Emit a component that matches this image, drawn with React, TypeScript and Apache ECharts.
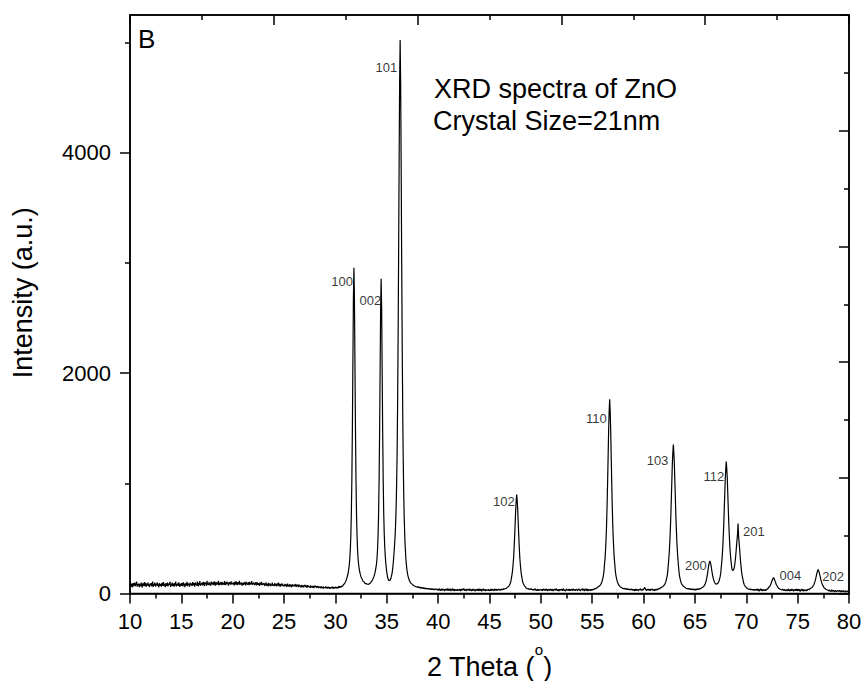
import React, { useEffect, useRef } from "react";
import * as echarts from "echarts";

// ---- measurement grid (2θ in degrees) ----
const START_ANGLE = 10;
const STEP = 0.05;

// Intensity (a.u.), one row per degree: row r holds 2θ = 10+r .. 10+r+0.95 in 0.05° steps
const intensityRows: number[][] = [
  [74, 102, 60, 88, 78, 56, 94, 70, 84, 98, 66, 80, 76, 106, 62, 86, 72, 90, 58, 82], // 10
  [88, 64, 98, 76, 54, 92, 80, 70, 104, 66, 78, 96, 62, 86, 74, 100, 68, 84, 58, 90], // 11
  [76, 94, 66, 82, 108, 60, 86, 72, 98, 78, 64, 90, 74, 102, 68, 84, 56, 94, 80, 70], // 12
  [86, 62, 96, 78, 72, 104, 66, 88, 76, 58, 92, 82, 70, 100, 64, 90, 78, 74, 106, 60], // 13
  [84, 72, 98, 66, 90, 80, 62, 94, 76, 108, 64, 86, 74, 92, 68, 102, 78, 60, 88, 82], // 14
  [70, 96, 80, 64, 102, 74, 88, 58, 92, 82, 72, 106, 66, 94, 78, 84, 62, 98, 76, 90], // 15
  [80, 68, 104, 86, 74, 94, 62, 100, 78, 90, 72, 108, 84, 66, 96, 76, 112, 70, 88, 82], // 16
  [98, 74, 90, 106, 78, 68, 102, 86, 94, 72, 116, 82, 90, 76, 104, 80, 92, 70, 108, 84], // 17
  [88, 100, 76, 94, 110, 82, 72, 104, 90, 78, 98, 86, 114, 74, 96, 88, 80, 106, 92, 76], // 18
  [102, 84, 94, 78, 112, 90, 76, 100, 86, 108, 82, 94, 72, 104, 88, 98, 80, 110, 86, 92], // 19
  [84, 100, 90, 74, 106, 94, 80, 110, 88, 76, 102, 92, 84, 116, 78, 96, 86, 100, 72, 94], // 20
  [90, 78, 104, 86, 98, 74, 108, 84, 92, 80, 102, 88, 76, 106, 82, 94, 86, 112, 78, 90], // 21
  [86, 98, 76, 92, 82, 104, 74, 88, 100, 78, 94, 84, 70, 98, 88, 80, 106, 76, 90, 82], // 22
  [78, 94, 68, 86, 76, 100, 72, 88, 82, 64, 96, 80, 74, 90, 66, 84, 78, 98, 70, 82], // 23
  [80, 68, 94, 76, 86, 64, 90, 74, 82, 98, 66, 80, 88, 62, 84, 72, 92, 70, 78, 66], // 24
  [79, 65, 87, 71, 83, 59, 77, 89, 67, 75, 61, 85, 69, 79, 57, 73, 83, 63, 71, 67], // 25
  [80, 64, 74, 86, 60, 76, 68, 82, 58, 72, 78, 64, 70, 54, 76, 66, 60, 74, 56, 68], // 26
  [67, 77, 59, 71, 63, 53, 75, 61, 69, 57, 65, 51, 73, 59, 63, 55, 69, 61, 49, 65], // 27
  [63, 69, 57, 65, 53, 67, 59, 49, 63, 55, 61, 47, 65, 57, 51, 59, 45, 61, 53, 57], // 28
  [53, 63, 47, 59, 55, 45, 61, 51, 57, 43, 55, 49, 59, 47, 53, 61, 45, 51, 57, 49], // 29
  [50, 60, 46, 58, 62, 48, 60, 66, 52, 64, 68, 56, 68, 72, 66, 76, 79, 86, 90, 99], // 30
  [110, 122, 136, 151, 170, 194, 224, 262, 318, 399, 526, 727, 1040, 1495, 2084, 2675, 2957, 2690, 2090, 1500], // 31
  [1045, 735, 535, 405, 325, 270, 232, 205, 182, 164, 150, 138, 130, 119, 109, 106, 104, 97, 90, 91], // 32
  [90, 86, 84, 82, 83, 85, 88, 92, 96, 101, 107, 114, 122, 131, 142, 155, 170, 188, 212, 240], // 33
  [270, 322, 401, 524, 716, 1016, 1452, 2015, 2582, 2857, 2590, 2025, 1465, 1032, 735, 546, 426, 340, 280, 232], // 34
  [192, 162, 140, 126, 118, 115, 118, 126, 138, 155, 178, 208, 248, 300, 365, 432, 506, 606, 750, 953], // 35
  [1236, 1682, 2292, 3046, 3889, 4638, 5024, 4630, 3880, 3035, 2280, 1670, 1222, 900, 680, 520, 410, 330, 270, 225], // 36
  [190, 166, 145, 133, 117, 110, 99, 97, 88, 87, 84, 77, 78, 71, 73, 66, 68, 61, 64, 57], // 37
  [58, 64, 52, 60, 50, 59, 48, 57, 46, 55, 45, 54, 44, 52, 42, 51, 41, 49, 40, 48], // 38
  [40, 47, 38, 46, 37, 45, 35, 44, 36, 42, 34, 42, 32, 41, 35, 33, 42, 33, 40, 31], // 39
  [40, 26, 46, 30, 36, 24, 42, 34, 28, 44, 32, 38, 22, 40, 30, 42, 28, 36, 44, 26], // 40
  [29, 43, 27, 35, 41, 21, 37, 31, 45, 27, 33, 39, 23, 37, 41, 29, 35, 25, 39, 31], // 41
  [35, 27, 41, 37, 23, 39, 31, 43, 29, 25, 45, 33, 27, 37, 35, 23, 41, 29, 39, 33], // 42
  [38, 24, 44, 28, 34, 22, 40, 32, 26, 42, 30, 36, 20, 38, 28, 40, 26, 34, 42, 24], // 43
  [28, 42, 26, 34, 40, 20, 36, 30, 44, 26, 32, 38, 22, 36, 40, 28, 34, 24, 38, 30], // 44
  [33, 25, 39, 35, 27, 41, 29, 37, 31, 23, 43, 35, 29, 39, 33, 27, 39, 31, 41, 35], // 45
  [36, 28, 40, 31, 41, 38, 34, 44, 37, 43, 43, 44, 47, 48, 54, 55, 60, 63, 70, 78], // 46
  [89, 101, 120, 151, 176, 216, 267, 329, 420, 524, 642, 759, 845, 899, 840, 752, 636, 520, 415, 326], // 47
  [265, 214, 174, 149, 118, 100, 88, 79, 70, 64, 62, 53, 56, 46, 50, 41, 46, 37, 43, 35], // 48
  [39, 45, 35, 41, 31, 39, 27, 37, 33, 43, 29, 35, 25, 39, 33, 27, 37, 29, 35, 31], // 49
  [34, 28, 40, 24, 36, 42, 30, 38, 26, 32, 44, 28, 36, 22, 40, 30, 38, 26, 34, 40], // 50
  [34, 26, 40, 36, 22, 38, 30, 42, 28, 24, 44, 32, 26, 36, 34, 22, 40, 28, 38, 32], // 51
  [30, 40, 24, 36, 44, 26, 34, 38, 22, 32, 42, 28, 36, 30, 40, 24, 38, 34, 26, 40], // 52
  [30, 40, 26, 36, 42, 28, 34, 24, 38, 32, 40, 26, 36, 30, 44, 28, 34, 22, 38, 32], // 53
  [29, 43, 27, 35, 41, 21, 37, 31, 45, 27, 33, 39, 23, 37, 41, 29, 35, 25, 39, 31], // 54
  [38, 30, 42, 35, 45, 38, 48, 42, 52, 47, 56, 52, 62, 58, 68, 72, 78, 86, 94, 108], // 55
  [124, 146, 170, 208, 269, 319, 399, 501, 626, 807, 1015, 1249, 1484, 1656, 1763, 1650, 1478, 1240, 1008, 800], // 56
  [620, 497, 396, 316, 266, 206, 168, 145, 123, 107, 95, 83, 79, 69, 70, 60, 62, 54, 57, 48], // 57
  [51, 44, 49, 40, 48, 37, 46, 36, 45, 34, 43, 33, 42, 31, 41, 33, 37, 40, 30, 39], // 58
  [28, 38, 32, 24, 40, 34, 26, 42, 30, 36, 22, 38, 32, 28, 44, 30, 36, 26, 40, 34], // 59
  [34, 44, 56, 46, 36, 34, 26, 40, 36, 30, 42, 28, 38, 24, 40, 34, 30, 42, 28, 36], // 60
  [38, 24, 42, 28, 36, 30, 40, 32, 44, 38, 46, 40, 49, 45, 53, 55, 59, 62, 64, 69], // 61
  [76, 82, 90, 103, 118, 139, 160, 198, 251, 309, 374, 456, 568, 692, 850, 1014, 1175, 1278, 1352, 1270], // 62
  [1168, 1008, 846, 690, 565, 452, 370, 306, 248, 196, 158, 137, 116, 101, 89, 80, 75, 68, 63, 60], // 63
  [59, 53, 55, 47, 51, 44, 48, 41, 46, 38, 45, 35, 44, 34, 43, 33, 42, 32, 41, 31], // 64
  [40, 30, 42, 32, 43, 34, 44, 36, 45, 38, 47, 41, 49, 48, 54, 55, 60, 64, 70, 78], // 65
  [88, 102, 118, 140, 165, 196, 228, 260, 280, 295, 282, 264, 234, 204, 176, 152, 132, 117, 104, 95], // 66
  [89, 86, 85, 87, 90, 95, 104, 116, 133, 150, 177, 222, 273, 330, 402, 500, 610, 748, 890, 1030], // 67
  [1126, 1198, 1132, 1043, 904, 763, 627, 521, 426, 358, 307, 263, 226, 210, 208, 212, 224, 243, 279, 320], // 68
  [374, 432, 490, 540, 636, 520, 465, 404, 342, 282, 235, 192, 162, 137, 115, 95, 80, 72, 65, 60], // 69
  [58, 50, 52, 43, 47, 40, 44, 36, 41, 32, 40, 31, 39, 29, 38, 28, 37, 27, 38, 30], // 70
  [28, 42, 26, 34, 40, 20, 36, 30, 44, 26, 32, 38, 22, 36, 40, 28, 34, 24, 38, 30], // 71
  [36, 46, 41, 52, 53, 61, 66, 78, 86, 102, 113, 129, 135, 146, 134, 128, 112, 101, 85, 77], // 72
  [70, 60, 57, 48, 47, 41, 41, 36, 38, 33, 34, 40, 28, 36, 26, 38, 30, 34, 24, 36], // 73
  [37, 23, 43, 27, 33, 21, 39, 31, 25, 41, 29, 35, 19, 37, 27, 39, 25, 33, 41, 23], // 74
  [26, 40, 24, 32, 38, 18, 34, 28, 42, 24, 30, 36, 20, 34, 38, 26, 32, 22, 36, 28], // 75
  [39, 34, 41, 36, 44, 41, 49, 48, 55, 58, 66, 75, 85, 98, 114, 132, 153, 174, 195, 208], // 76
  [219, 205, 192, 171, 150, 130, 112, 96, 83, 73, 66, 55, 54, 45, 46, 39, 40, 34, 37, 31], // 77
  [30, 22, 34, 24, 28, 18, 32, 26, 20, 30, 24, 28, 16, 30, 22, 26, 18, 28, 24, 20], // 78
  [26, 18, 30, 20, 24, 14, 28, 22, 16, 26, 20, 24, 12, 26, 18, 22, 14, 24, 20, 16], // 79
];
const lastAngle = 80;
const lastIntensity = 20;

// ---- peak annotations (Miller indices) ----
const peakLabels = ["100", "002", "101", "102", "110", "103", "200", "112", "201", "004", "202"];
const peakTheta = [31.8, 34.45, 36.3, 47.65, 56.7, 62.9, 66.45, 68.05, 69.2, 72.65, 77.0];
const peakIntensity = [2957, 2857, 5024, 899, 1763, 1352, 295, 1198, 636, 146, 219];

// ---- axes ----
const xRange = [10, 80];
const xInterval = 5;
const yRange = [0, 5250];
const yLabelValues = [0, 2000, 4000];
const yMinorValues = [1000, 3000, 5000];

// ---- texts ----
const panelLetter = "B";
const noteLines = ["XRD spectra of ZnO", "Crystal Size=21nm"];
const xTitle = "2 Theta ({sup|o})";
const yTitle = "Intensity (a.u.)";

// label placement style (pixel offsets from each peak top, and alignment)
const labelStyle: { dx: number; dy: number; align: "left" | "right" }[] = [
  { dx: -1, dy: 14, align: "right" },
  { dx: 0, dy: 22, align: "right" },
  { dx: -3, dy: 28, align: "right" },
  { dx: -2, dy: 7, align: "right" },
  { dx: -3, dy: 19, align: "right" },
  { dx: -5, dy: 16, align: "right" },
  { dx: -3, dy: 5, align: "right" },
  { dx: -2, dy: 15, align: "right" },
  { dx: 5, dy: 8, align: "left" },
  { dx: 6, dy: -2, align: "left" },
  { dx: 4, dy: 7, align: "left" },
];

const FONT = '"Liberation Sans", Arial, Helvetica, sans-serif';
const BLACK = "#000";

export default function App() {
  const ref = useRef<HTMLDivElement>(null);

  useEffect(() => {
    if (!ref.current) return;
    const chart = echarts.init(ref.current, undefined, { renderer: "svg" });

    const spectrum: [number, number][] = [];
    intensityRows.forEach((row, r) => {
      row.forEach((v, j) => {
        spectrum.push([Number((START_ANGLE + r + j * STEP).toFixed(2)), v]);
      });
    });
    spectrum.push([lastAngle, lastIntensity]);

    const labelData = peakLabels.map((name, i) => ({
      value: [peakTheta[i], peakIntensity[i]],
      name,
      label: {
        show: true,
        formatter: name,
        position: [labelStyle[i].dx, labelStyle[i].dy],
        align: labelStyle[i].align,
        verticalAlign: "middle",
        fontSize: 13,
        color: BLACK,
        fontFamily: FONT,
      },
    }));

    const lineW = 1.5;
    const axisLineStyle = { color: BLACK, width: lineW };

    const option: any = {
      animation: false,
      backgroundColor: "#ffffff",
      textStyle: { fontFamily: FONT },
      grid: {
        left: 130,
        right: 15,
        top: 15,
        bottom: 87.5,
        containLabel: false,
        outerBoundsMode: "none",
        show: true,
        borderColor: BLACK,
        borderWidth: lineW,
        backgroundColor: "transparent",
      },
      xAxis: [
        {
          type: "value",
          position: "bottom",
          min: xRange[0],
          max: xRange[1],
          interval: xInterval,
          name: xTitle,
          nameLocation: "middle",
          nameGap: 48,
          nameTextStyle: {
            fontSize: 27,
            color: BLACK,
            fontFamily: FONT,
            lineHeight: 50,
            rich: {
              sup: { fontSize: 15, lineHeight: 15, verticalAlign: "top", color: BLACK, fontFamily: FONT },
            },
          },
          axisLine: { show: true, onZero: false, lineStyle: axisLineStyle },
          axisTick: { show: true, inside: false, length: 10, lineStyle: axisLineStyle },
          minorTick: { show: true, splitNumber: 2, length: 5, lineStyle: axisLineStyle },
          axisLabel: { fontSize: 22, color: BLACK, margin: 17, fontFamily: FONT },
          splitLine: { show: false },
          minorSplitLine: { show: false },
        },
        {
          type: "value",
          position: "top",
          min: 0,
          max: 10,
          interval: 2,
          axisLine: { show: true, onZero: false, lineStyle: axisLineStyle },
          axisTick: { show: true, inside: true, length: 10, lineStyle: axisLineStyle },
          minorTick: { show: true, splitNumber: 2, length: 5, lineStyle: axisLineStyle },
          axisLabel: { show: false },
          splitLine: { show: false },
        },
      ],
      yAxis: [
        {
          type: "value",
          position: "left",
          min: yRange[0],
          max: yRange[1],
          interval: 1000,
          name: yTitle,
          nameLocation: "middle",
          nameGap: 94,
          nameTextStyle: { fontSize: 27, color: BLACK, fontFamily: FONT, padding: [0, 0, 0, 23] },
          axisLine: { show: true, onZero: false, lineStyle: axisLineStyle },
          axisTick: { show: true, inside: false, length: 10, customValues: yLabelValues, lineStyle: axisLineStyle },
          axisLabel: {
            fontSize: 22,
            color: BLACK,
            margin: 19,
            fontFamily: FONT,
            customValues: yLabelValues,
            formatter: (v: number) => String(v),
          },
          splitLine: { show: false },
        },
        {
          type: "value",
          position: "left",
          min: yRange[0],
          max: yRange[1],
          interval: 1000,
          axisLine: { show: false },
          axisTick: { show: true, inside: false, length: 5, customValues: yMinorValues, lineStyle: axisLineStyle },
          axisLabel: { show: false },
          splitLine: { show: false },
        },
        {
          type: "value",
          position: "right",
          min: 0,
          max: 10,
          interval: 2,
          axisLine: { show: true, onZero: false, lineStyle: axisLineStyle },
          axisTick: { show: true, inside: true, length: 10, lineStyle: axisLineStyle },
          minorTick: { show: true, splitNumber: 2, length: 5, lineStyle: axisLineStyle },
          axisLabel: { show: false },
          splitLine: { show: false },
        },
      ],
      series: [
        {
          type: "line",
          xAxisIndex: 0,
          yAxisIndex: 0,
          data: spectrum,
          showSymbol: false,
          symbol: "none",
          lineStyle: { color: BLACK, width: 1.2 },
          silent: true,
          z: 3,
        },
        {
          type: "scatter",
          xAxisIndex: 0,
          yAxisIndex: 0,
          data: labelData,
          symbolSize: 0,
          itemStyle: { color: "transparent" },
          silent: true,
          z: 4,
        },
      ],
      graphic: [
        {
          type: "text",
          x: 138,
          y: 39,
          style: { text: panelLetter, fontSize: 26, fontFamily: FONT, fill: BLACK, align: "left", verticalAlign: "middle" },
        },
        {
          type: "text",
          x: 434,
          y: 89,
          style: { text: noteLines[0], fontSize: 27, fontFamily: FONT, fill: BLACK, align: "left", verticalAlign: "middle" },
        },
        {
          type: "text",
          x: 433,
          y: 121,
          style: { text: noteLines[1], fontSize: 27, fontFamily: FONT, fill: BLACK, align: "left", verticalAlign: "middle" },
        },
      ],
    };

    chart.setOption(option);
    return () => chart.dispose();
  }, []);

  return (
    <div
      ref={ref}
      style={{ position: "fixed", left: 0, top: 0, width: 864, height: 681, background: "#fff" }}
    />
  );
}
